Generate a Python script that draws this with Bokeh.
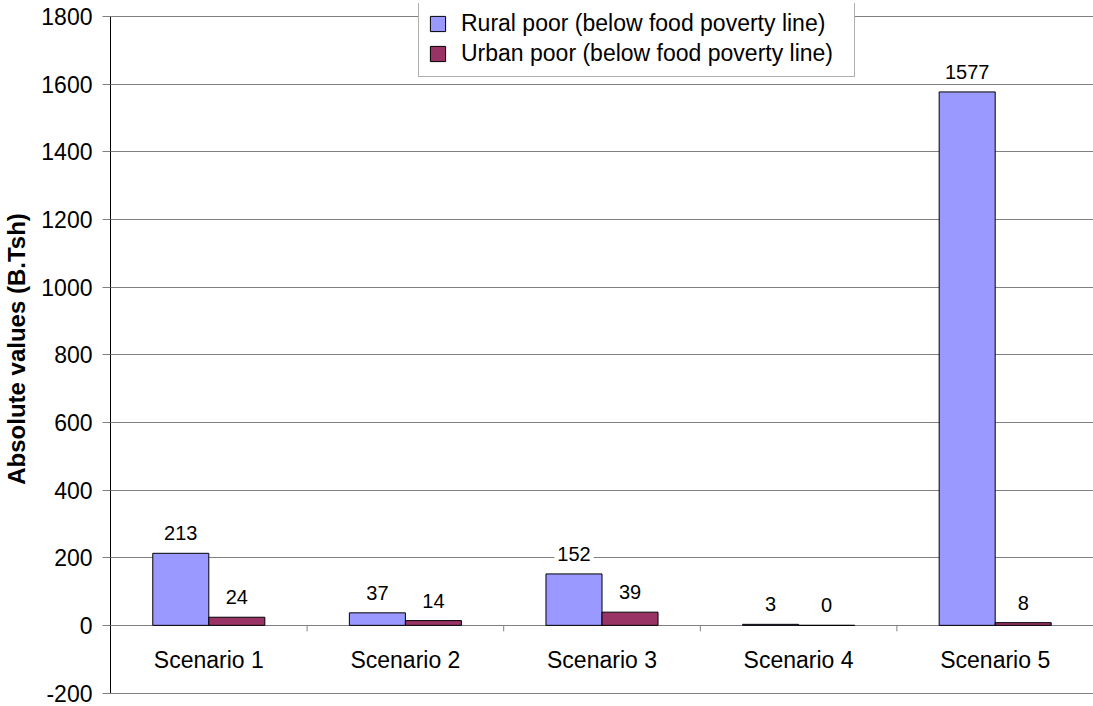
from bokeh.plotting import figure
from bokeh.models import FactorRange, Range1d, FixedTicker, ColumnDataSource
from bokeh.transform import dodge
from bokeh.core.properties import value
from bokeh.embed import file_html
from bokeh.resources import INLINE

# Data
scenarios = ["Scenario 1", "Scenario 2", "Scenario 3", "Scenario 4", "Scenario 5"]
rural_poor = [213, 37, 152, 3, 1577]
urban_poor = [24, 14, 39, 0, 8]
series_names = [
    "Rural poor (below food poverty line)",
    "Urban poor (below food poverty line)",
]
y_ticks = [-200, 0, 200, 400, 600, 800, 1000, 1200, 1400, 1600, 1800]
y_title = "Absolute values (B.Tsh)"

# Layout / style
W, H = 1093, 706
TOP, BOTTOM, LEFT = 3, 12, 108
PX_PER_UNIT = 676.5 / (y_ticks[-1] - y_ticks[0])
Y1 = y_ticks[-1] + 13 / PX_PER_UNIT      # room above the top gridline for the legend
Y0 = y_ticks[0] - 1.5 / PX_PER_UNIT
FONT = "Liberation Sans"
GRID = "#808080"
RURAL_COLOR = "#9999FF"
URBAN_COLOR = "#993366"
BAR_W = 0.285
CAT_TICK_PX = 6

src = ColumnDataSource(dict(
    scenario=scenarios,
    rural=rural_poor,
    urban=urban_poor,
    rural_txt=[str(v) for v in rural_poor],
    urban_txt=[str(v) for v in urban_poor],
))

p = figure(
    width=W, height=H,
    x_range=FactorRange(*scenarios),
    y_range=Range1d(Y0, Y1),
    x_axis_location=None,
    toolbar_location=None,
    output_backend="svg",
    min_border_left=LEFT, min_border_right=0,
    min_border_top=TOP, min_border_bottom=BOTTOM,
)
p.background_fill_color = "white"
p.border_fill_color = "white"
p.outline_line_color = None
p.xgrid.visible = False

# Horizontal gridlines
p.ygrid.ticker = FixedTicker(ticks=y_ticks)
p.ygrid.grid_line_color = GRID
p.ygrid.grid_line_width = 1

# Value axis
yax = p.yaxis[0]
yax.ticker = FixedTicker(ticks=y_ticks)
yax.bounds = (y_ticks[0], y_ticks[-1])
yax.major_label_overrides = {t: str(t) for t in y_ticks}
yax.axis_line_color = "black"
yax.major_tick_line_color = GRID
yax.major_tick_out = 8
yax.major_tick_in = 0
yax.minor_tick_line_color = None
yax.major_label_standoff = 10
yax.major_label_text_font = FONT
yax.major_label_text_font_size = "23px"
yax.major_label_text_color = "black"
yax.axis_label = y_title
yax.axis_label_text_font = FONT
yax.axis_label_text_font_size = "24px"
yax.axis_label_text_font_style = "bold"
yax.axis_label_text_color = "black"
yax.axis_label_standoff = 8

# Bars
rural_x = dodge("scenario", -BAR_W / 2, range=p.x_range)
urban_x = dodge("scenario", BAR_W / 2, range=p.x_range)
p.vbar(x=rural_x, top="rural", bottom=0, width=BAR_W, source=src,
       fill_color=RURAL_COLOR, line_color="black", line_width=1,
       legend_label=series_names[0])
p.vbar(x=urban_x, top="urban", bottom=0, width=BAR_W, source=src,
       fill_color=URBAN_COLOR, line_color="black", line_width=1,
       legend_label=series_names[1])

# Value labels above bars
label_style = dict(
    source=src, text_align="center", text_baseline="alphabetic",
    y_offset=-20, text_font=value(FONT), text_font_size="20px",
    text_color="black", background_fill_color="white", padding=3,
)
p.text(x=rural_x, y="rural", text="rural_txt", **label_style)
p.text(x=urban_x, y="urban", text="urban_txt", **label_style)

# Category axis drawn along the zero line
p.text(x="scenario", y=0, text="scenario", source=src,
       text_align="center", text_baseline="alphabetic", y_offset=35,
       text_font=value(FONT), text_font_size="23px", text_color="black")
bounds = list(range(1, len(scenarios)))
p.segment(x0=bounds, y0=[0] * len(bounds), x1=bounds,
          y1=[-CAT_TICK_PX / PX_PER_UNIT] * len(bounds),
          line_color=GRID, line_width=1)

# Legend
lg = p.legend[0]
lg.location = (308, 694 - 77)
lg.orientation = "vertical"
lg.background_fill_color = "white"
lg.background_fill_alpha = 1
lg.border_line_color = "#606060"
lg.border_line_width = 1
lg.padding = 9
lg.spacing = 3
lg.margin = 0
lg.glyph_width = 19
lg.glyph_height = 19
lg.label_standoff = 14
lg.label_width = 384
lg.label_text_font = FONT
lg.label_text_font_size = "23px"
lg.label_text_color = "black"

open("out.html", "w").write(file_html(p, INLINE))
